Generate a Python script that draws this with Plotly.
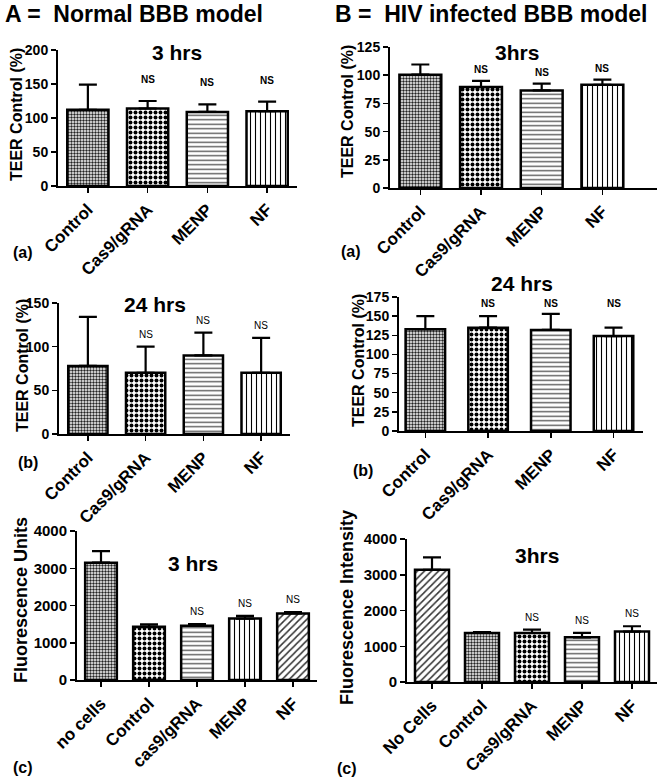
import plotly.graph_objects as go

W, H = 658, 777

# ---------------- data ----------------
cats_teer = ["Control", "Cas9/gRNA", "MENP", "NF"]
A3_mean = [112, 114, 109, 110]
A3_err = [37, 11, 11, 14]
B3_mean = [100.5, 89.5, 86.5, 91.5]
B3_err = [9, 5.5, 6, 4.5]
A24_mean = [78, 70, 90, 70]
A24_err = [56, 30, 26, 40]
B24_mean = [133, 135, 132, 124]
B24_err = [17, 15, 21, 11]
cats_fa = ["no cells", "Control", "cas9/gRNA", "MENP", "NF"]
Afl_mean = [3150, 1430, 1455, 1650, 1785]
Afl_err = [312, 62, 45, 71, 35]
cats_fb = ["No Cells", "Control", "Cas9/gRNA", "MENP", "NF"]
Bfl_mean = [3140, 1370, 1370, 1250, 1410]
Bfl_err = [345, 28, 93, 122, 149]
ns_teer = ["", "NS", "NS", "NS"]
ns_fl = ["", "", "NS", "NS", "NS"]

FONT = "Liberation Sans, Arial, sans-serif"

PAT = {
    "fine": dict(shape=".", size=3, solidity=0.5, fgcolor="#222"),
    "check": dict(shape=".", size=5, solidity=0.5, fgcolor="black"),
    "h": dict(shape="-", size=4.5, solidity=0.3, fgcolor="#555"),
    "v": dict(shape="|", size=5, solidity=0.22, fgcolor="black"),
    "d": dict(shape="/", size=5, solidity=0.3, fgcolor="#333"),
}

panels = [
    dict(cats=cats_teer, mean=A3_mean, err=A3_err, ns=ns_teer, pats=["fine", "check", "h", "v"],
         box=(58, 297, 50, 186), yr=[0, 200], dt=50, xr=[-0.5, 3.5], bw=0.69, ytf=14,
         title="3 hrs", tpos=(177, 53), ytitle="TEER Control (%)", ytpos=(17, 115),
         nsbold=True, nsshift=14, label="(a)", lpos=(23, 253)),
    dict(cats=cats_teer, mean=B3_mean, err=B3_err, ns=ns_teer, pats=["fine", "check", "h", "v"],
         box=(390, 657, 47, 188), yr=[0, 125], dt=25, xr=[-0.5, 3.9], bw=0.69, ytf=14,
         title="3hrs", tpos=(517, 53), ytitle="TEER Control (%)", ytpos=(348, 112),
         nsbold=True, nsshift=4, label="(a)", lpos=(351, 251)),
    dict(cats=cats_teer, mean=A24_mean, err=A24_err, ns=ns_teer, pats=["fine", "check", "h", "v"],
         box=(59, 290, 303, 434), yr=[0, 150], dt=50, xr=[-0.5, 3.5], bw=0.68, ytf=14,
         title="24 hrs", tpos=(155, 305), ytitle="TEER Control (%)", ytpos=(23, 366),
         nsbold=False, nsshift=5, label="(b)", lpos=(28, 463)),
    dict(cats=cats_teer, mean=B24_mean, err=B24_err, ns=ns_teer, pats=["fine", "check", "h", "v"],
         box=(399, 643, 297, 431), yr=[0, 175], dt=25, xr=[-0.42, 3.47], bw=0.63, ytf=14,
         title="24 hrs", tpos=(522, 283), ytitle="TEER Control (%)", ytpos=(358, 361),
         nsbold=True, nsfixed=167, label="(b)", lpos=(363, 470)),
    dict(cats=cats_fa, mean=Afl_mean, err=Afl_err, ns=ns_fl, pats=["fine", "check", "h", "v", "d"],
         box=(77, 317, 531, 680), yr=[0, 4000], dt=1000, xr=[-0.5, 4.5], bw=0.66, ytf=15,
         title="3 hrs", tpos=(193, 563), ytitle="Fluorescence Units", ytpos=(21, 600),
         nsbold=False, nsshift=5, label="(c)", lpos=(23, 767)),
    dict(cats=cats_fb, mean=Bfl_mean, err=Bfl_err, ns=ns_fl, pats=["d", "fine", "check", "h", "v"],
         box=(407, 657, 539, 682), yr=[0, 4000], dt=1000, xr=[-0.5, 4.5], bw=0.68, ytf=15,
         title="3hrs", tpos=(537, 555), ytitle="Fluorescence Intensity", ytpos=(347, 608),
         nsbold=False, nsshift=5, label="(c)", lpos=(347, 768)),
]

fig = go.Figure()
annotations = []
layout = {}


def px(x):
    return x / W


def py(y):
    return 1 - y / H


for i, p in enumerate(panels, start=1):
    xa = "x" if i == 1 else f"x{i}"
    ya = "y" if i == 1 else f"y{i}"
    x0, x1, y0, y1 = p["box"]
    n = len(p["cats"])
    fig.add_trace(go.Bar(
        x=list(range(n)), y=p["mean"], width=p["bw"], xaxis=xa, yaxis=ya,
        marker=dict(color="white", line=dict(color="black", width=2.5),
                    pattern=dict(
                        shape=[PAT[k]["shape"] for k in p["pats"]],
                        size=[PAT[k]["size"] for k in p["pats"]],
                        solidity=[PAT[k]["solidity"] for k in p["pats"]],
                        fgcolor=[PAT[k]["fgcolor"] for k in p["pats"]],
                        bgcolor="white", fillmode="replace")),
        error_y=dict(type="data", symmetric=False, array=p["err"], arrayminus=[0] * n,
                     color="black", thickness=2.2, width=9),
        showlegend=False, hoverinfo="skip",
    ))
    axkey = "xaxis" if i == 1 else f"xaxis{i}"
    aykey = "yaxis" if i == 1 else f"yaxis{i}"
    layout[axkey] = dict(
        domain=[px(x0), px(x1)], anchor=ya, range=p["xr"], automargin=False,
        tickmode="array", tickvals=list(range(n)), ticktext=p["cats"],
        tickangle=-45, ticks="outside", ticklen=5, tickwidth=1.5, tickcolor="black",
        showline=True, linecolor="black", linewidth=2, showgrid=False, zeroline=False,
        tickfont=dict(family=FONT, size=17, color="black", weight="bold"),
        fixedrange=True,
    )
    layout[aykey] = dict(
        domain=[py(y1), py(y0)], anchor=xa, range=p["yr"], dtick=p["dt"], tick0=0,
        automargin=False,
        ticks="outside", ticklen=5, tickwidth=1.5, tickcolor="black",
        showline=True, linecolor="black", linewidth=2, showgrid=False, zeroline=False,
        tickfont=dict(family=FONT, size=p["ytf"], color="black", weight="bold"),
        fixedrange=True,
    )
    annotations.append(dict(text=p["title"], x=px(p["tpos"][0]), y=py(p["tpos"][1]),
                            xref="paper", yref="paper", showarrow=False,
                            xanchor="center", yanchor="middle",
                            font=dict(family=FONT, size=21, color="black", weight="bold")))
    annotations.append(dict(text=p["ytitle"], x=px(p["ytpos"][0]), y=py(p["ytpos"][1]),
                            xref="paper", yref="paper", showarrow=False, textangle=-90,
                            xanchor="center", yanchor="middle",
                            font=dict(family=FONT, size=16 if "TEER" in p["ytitle"] else 18,
                                      color="black", weight="bold")))
    annotations.append(dict(text=p["label"], x=px(p["lpos"][0]), y=py(p["lpos"][1]),
                            xref="paper", yref="paper", showarrow=False,
                            xanchor="center", yanchor="middle",
                            font=dict(family=FONT, size=16, color="black", weight="bold")))
    for k in range(n):
        if not p["ns"][k]:
            continue
        if "nsfixed" in p:
            yv, ys, yanch = p["nsfixed"], 0, "middle"
        else:
            yv, ys, yanch = p["mean"][k] + p["err"][k], p["nsshift"], "bottom"
        annotations.append(dict(text=p["ns"][k], x=k, y=yv, xref=xa, yref=ya,
                                showarrow=False, yshift=ys, yanchor=yanch,
                                font=dict(family=FONT, size=10, color="black",
                                          weight="bold" if p["nsbold"] else "normal")))

annotations.append(dict(text="A =  Normal BBB model", x=px(3), y=py(14), xref="paper", yref="paper",
                        showarrow=False, xanchor="left", yanchor="middle",
                        font=dict(family=FONT, size=23, color="black", weight="bold")))
annotations.append(dict(text="B =  HIV infected BBB model", x=px(333), y=py(14), xref="paper", yref="paper",
                        showarrow=False, xanchor="left", yanchor="middle",
                        font=dict(family=FONT, size=23, color="black", weight="bold")))

fig.update_layout(
    width=W, height=H, margin=dict(l=0, r=0, t=0, b=0, autoexpand=False),
    paper_bgcolor="white", plot_bgcolor="white", template="none",
    annotations=annotations, showlegend=False, **layout,
)

fig.write_html(
    "out.html",
    config={"displayModeBar": False, "staticPlot": True},
    post_script="document.body.style.margin='0';document.body.style.overflow='hidden';",
)
